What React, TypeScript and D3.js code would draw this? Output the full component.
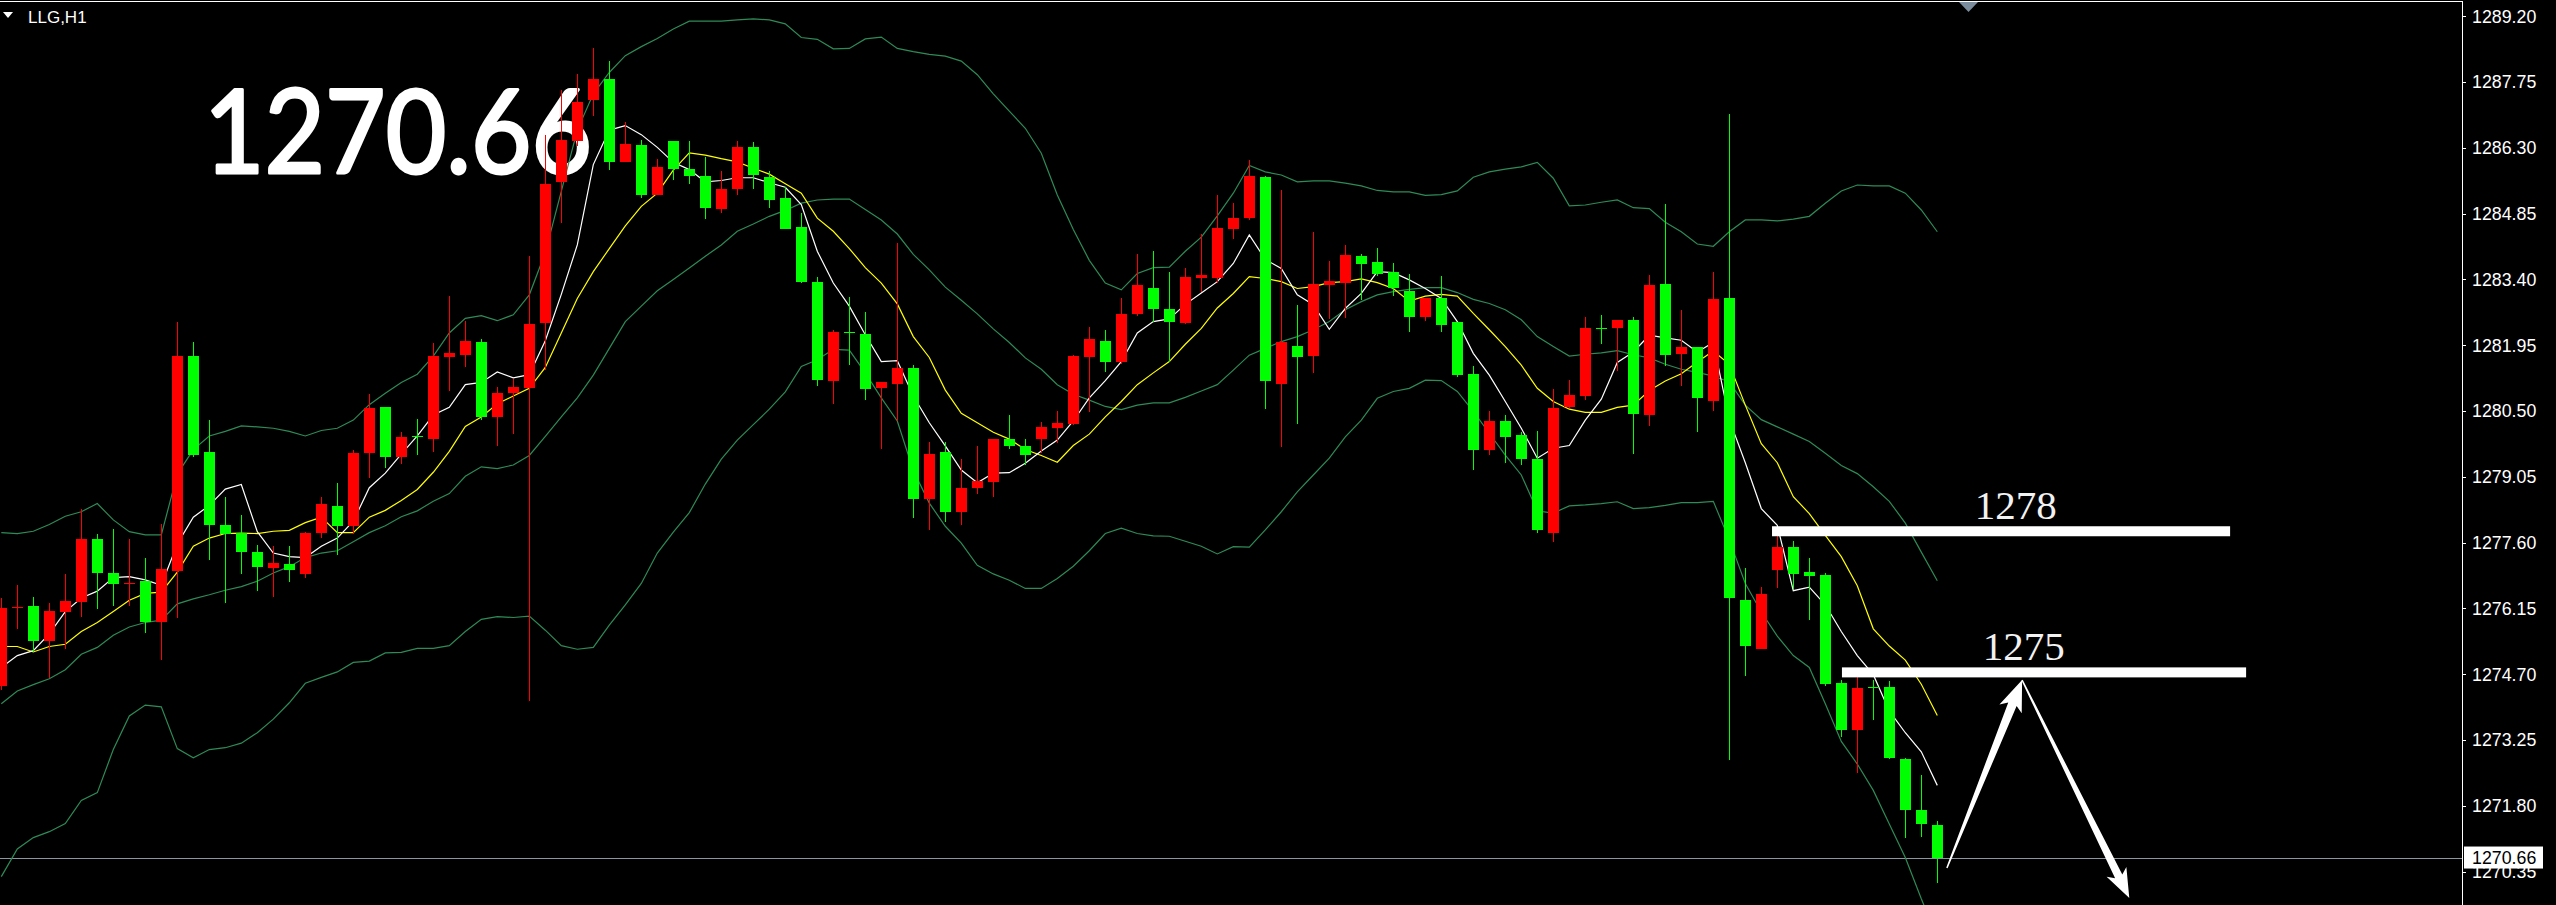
import React from 'react';
import * as d3 from 'd3';

const W = 2556;
const H = 905;
const PLOT_RIGHT = 2462;

const SYMBOL = 'LLG,H1';
const BIG_TEXT = '1270.66';
const LAST_PRICE = 1270.66;
const LAST_LABEL = '1270.66';

const TICK_LABELS = ['1289.20', '1287.75', '1286.30', '1284.85', '1283.40', '1281.95', '1280.50', '1279.05', '1277.60', '1276.15', '1274.70', '1273.25', '1271.80', '1270.35'];

const OPEN = [
  1274.43, 1276.16, 1276.20, 1275.43, 1276.08, 1276.30, 1277.68, 1276.93, 1276.71, 1276.75,
  1275.86, 1276.98, 1281.71, 1279.60, 1277.99, 1277.81, 1277.39, 1277.03, 1277.12, 1276.90,
  1277.81, 1278.40, 1277.97, 1279.57, 1280.59, 1279.49, 1279.95, 1279.89, 1281.70, 1281.74,
  1282.02, 1280.36, 1280.89, 1281.01, 1282.45, 1285.55, 1286.44, 1287.36, 1287.82, 1285.99,
  1286.36, 1285.26, 1286.45, 1285.83, 1285.68, 1284.95, 1285.40, 1286.32, 1285.65, 1285.20,
  1284.56, 1283.34, 1281.17, 1282.23, 1282.20, 1281.01, 1281.10, 1281.45, 1278.57, 1279.59,
  1278.28, 1278.80, 1278.94, 1279.88, 1279.72, 1279.88, 1280.12, 1280.22, 1281.69, 1282.04,
  1281.59, 1282.63, 1283.21, 1282.74, 1282.45, 1283.44, 1283.43, 1284.50, 1284.76, 1285.66,
  1281.10, 1281.93, 1281.72, 1283.28, 1283.33, 1283.92, 1283.78, 1283.56, 1283.14, 1282.58,
  1282.99, 1282.46, 1281.31, 1279.65, 1280.29, 1279.97, 1279.44, 1277.82, 1280.58, 1280.82,
  1282.33, 1282.32, 1282.51, 1280.41, 1283.30, 1281.76, 1281.91, 1280.72, 1282.99, 1276.33,
  1275.25, 1276.99, 1277.51, 1276.95, 1276.89, 1274.51, 1273.47, 1274.41, 1274.42, 1272.83,
  1271.70, 1271.38,
];
const HIGH = [
  1276.38, 1276.66, 1276.40, 1276.28, 1276.90, 1278.35, 1277.79, 1277.89, 1277.68, 1277.27,
  1278.02, 1282.47, 1282.01, 1280.30, 1278.60, 1278.20, 1277.55, 1277.52, 1277.52, 1277.84,
  1278.61, 1278.92, 1279.64, 1280.88, 1280.59, 1280.04, 1280.33, 1281.99, 1283.04, 1282.48,
  1282.09, 1281.03, 1281.21, 1283.92, 1286.58, 1287.57, 1287.93, 1288.50, 1288.22, 1286.86,
  1286.47, 1286.05, 1286.45, 1286.45, 1286.10, 1285.79, 1286.46, 1286.43, 1285.79, 1285.43,
  1284.86, 1283.45, 1282.29, 1283.01, 1282.68, 1281.15, 1284.21, 1281.52, 1279.82, 1279.82,
  1279.44, 1279.72, 1279.88, 1280.41, 1279.88, 1280.25, 1280.49, 1281.73, 1282.35, 1282.29,
  1282.98, 1283.95, 1284.02, 1283.56, 1283.66, 1284.40, 1285.26, 1285.08, 1286.03, 1285.67,
  1285.37, 1282.84, 1284.44, 1283.80, 1284.16, 1283.97, 1284.09, 1283.76, 1283.52, 1283.00,
  1283.47, 1282.46, 1281.49, 1280.51, 1280.41, 1280.03, 1280.06, 1280.98, 1281.18, 1282.57,
  1282.62, 1282.51, 1282.57, 1283.49, 1285.06, 1282.73, 1281.91, 1283.57, 1287.04, 1277.04,
  1276.62, 1277.76, 1277.64, 1277.25, 1276.94, 1274.58, 1274.67, 1274.58, 1274.55, 1272.86,
  1272.48, 1271.46,
];
const LOW = [
  1274.35, 1275.69, 1275.19, 1274.62, 1275.26, 1275.97, 1276.14, 1276.21, 1276.21, 1275.61,
  1275.02, 1275.93, 1279.48, 1277.22, 1276.28, 1276.90, 1276.54, 1276.41, 1276.74, 1276.83,
  1277.71, 1277.33, 1277.80, 1279.03, 1279.24, 1279.34, 1279.54, 1279.59, 1280.95, 1281.46,
  1280.31, 1279.72, 1280.00, 1274.11, 1281.40, 1284.65, 1286.33, 1286.99, 1285.80, 1285.99,
  1285.20, 1285.26, 1285.59, 1285.50, 1284.73, 1284.86, 1285.26, 1285.40, 1284.98, 1284.52,
  1283.32, 1281.04, 1280.66, 1281.52, 1280.75, 1279.67, 1280.28, 1278.15, 1277.88, 1278.06,
  1277.98, 1278.68, 1278.61, 1279.67, 1279.30, 1279.58, 1279.80, 1280.20, 1280.48, 1281.35,
  1281.54, 1282.59, 1282.47, 1281.58, 1282.41, 1283.13, 1283.33, 1284.30, 1284.71, 1280.55,
  1279.70, 1280.21, 1281.34, 1282.53, 1282.56, 1282.95, 1283.48, 1283.04, 1282.23, 1282.49,
  1282.25, 1281.24, 1279.21, 1279.54, 1279.35, 1279.32, 1277.82, 1277.62, 1280.56, 1280.75,
  1281.98, 1281.39, 1279.55, 1280.17, 1281.49, 1281.05, 1280.03, 1280.51, 1272.82, 1274.66,
  1275.25, 1276.61, 1276.58, 1275.89, 1274.45, 1273.31, 1272.53, 1273.70, 1272.83, 1271.10,
  1271.11, 1270.10,
];
const CLOSE = [
  1276.16, 1276.17, 1275.44, 1276.10, 1276.31, 1277.68, 1276.94, 1276.68, 1276.72, 1275.86,
  1277.01, 1281.71, 1279.53, 1277.98, 1277.78, 1277.40, 1277.06, 1277.15, 1276.99, 1277.81,
  1278.45, 1277.96, 1279.57, 1280.56, 1279.49, 1279.93, 1279.94, 1281.71, 1281.77, 1282.04,
  1280.37, 1280.90, 1281.02, 1282.41, 1285.50, 1286.47, 1287.32, 1287.82, 1285.99, 1286.39,
  1285.26, 1285.88, 1285.84, 1285.68, 1284.97, 1285.39, 1286.32, 1285.70, 1285.16, 1284.52,
  1283.35, 1281.18, 1282.24, 1282.21, 1280.98, 1281.14, 1281.45, 1278.57, 1279.56, 1278.28,
  1278.81, 1278.95, 1279.88, 1279.72, 1279.54, 1280.14, 1280.24, 1281.71, 1282.09, 1281.59,
  1282.63, 1283.27, 1282.75, 1282.47, 1283.45, 1283.49, 1284.53, 1284.75, 1285.68, 1281.17,
  1282.02, 1281.70, 1283.30, 1283.36, 1283.94, 1283.75, 1283.53, 1283.22, 1282.58, 1283.00,
  1282.40, 1281.29, 1279.63, 1280.29, 1279.93, 1279.45, 1277.88, 1280.57, 1280.85, 1282.33,
  1282.32, 1282.50, 1280.43, 1283.28, 1281.74, 1281.91, 1280.79, 1282.97, 1276.37, 1275.33,
  1276.47, 1277.51, 1276.90, 1276.87, 1274.49, 1273.47, 1274.40, 1274.40, 1272.86, 1271.70,
  1271.40, 1270.66,
];

const MA_FAST = [
  1274.85, 1275.11, 1275.22, 1275.59, 1276.08, 1276.38, 1276.53, 1276.83, 1276.85, 1276.78,
  1276.66, 1277.57, 1278.16, 1278.42, 1278.78, 1278.88, 1277.84, 1277.37, 1277.29, 1277.27,
  1277.52, 1277.70, 1278.07, 1278.81, 1279.13, 1279.55, 1279.95, 1280.41, 1280.58, 1281.08,
  1281.13, 1281.36, 1281.23, 1281.30, 1282.05, 1283.07, 1284.16, 1285.93, 1286.69, 1286.79,
  1286.59, 1286.31, 1285.98, 1285.82, 1285.55, 1285.58, 1285.64, 1285.64, 1285.53, 1285.43,
  1285.05, 1284.02, 1283.32, 1282.81, 1282.18, 1281.59, 1281.61, 1280.83, 1280.24, 1279.73,
  1279.20, 1278.92, 1279.13, 1279.14, 1279.35, 1279.62, 1279.86, 1280.28, 1280.79, 1281.17,
  1281.59, 1282.22, 1282.47, 1282.53, 1282.85, 1283.10, 1283.35, 1283.75, 1284.38, 1283.84,
  1283.64, 1283.06, 1282.84, 1282.30, 1282.76, 1283.09, 1283.57, 1283.55, 1283.39, 1283.20,
  1282.98, 1282.47, 1281.77, 1281.29, 1280.71, 1280.12, 1279.46, 1279.68, 1279.74, 1280.30,
  1280.76, 1281.57, 1281.80, 1282.17, 1282.11, 1282.06, 1281.80, 1282.01, 1280.31, 1279.36,
  1278.35, 1277.98, 1276.54, 1276.62, 1276.23, 1275.64, 1275.11, 1274.69, 1273.89, 1273.41,
  1272.99, 1272.25,
];
const MA_SLOW = [
  1275.31, 1275.31, 1275.19, 1275.31, 1275.36, 1275.64, 1275.84, 1276.08, 1276.33, 1276.48,
  1276.51, 1276.95, 1277.52, 1277.70, 1277.80, 1277.81, 1277.80, 1277.85, 1277.87, 1278.04,
  1278.16, 1277.82, 1277.82, 1278.16, 1278.31, 1278.53, 1278.77, 1279.15, 1279.61, 1280.16,
  1280.37, 1280.66, 1280.83, 1281.00, 1281.46, 1282.22, 1282.98, 1283.57, 1284.08, 1284.58,
  1285.01, 1285.30, 1285.81, 1286.19, 1286.14, 1286.06, 1285.99, 1285.85, 1285.72, 1285.51,
  1285.30, 1284.75, 1284.46, 1284.08, 1283.66, 1283.32, 1282.86, 1282.14, 1281.68, 1280.96,
  1280.45, 1280.24, 1280.03, 1279.88, 1279.65, 1279.52, 1279.37, 1279.74, 1279.99, 1280.37,
  1280.71, 1281.08, 1281.34, 1281.59, 1281.97, 1282.32, 1282.77, 1283.09, 1283.46, 1283.42,
  1283.35, 1283.20, 1283.24, 1283.33, 1283.35, 1283.41, 1283.33, 1283.20, 1282.92, 1283.03,
  1283.07, 1283.03, 1282.65, 1282.29, 1281.92, 1281.51, 1281.00, 1280.71, 1280.54, 1280.47,
  1280.47, 1280.58, 1280.63, 1280.95, 1281.16, 1281.32, 1281.58, 1281.82, 1281.53, 1280.63,
  1279.78, 1279.36, 1278.61, 1278.24, 1277.76, 1277.29, 1276.65, 1275.70, 1275.32, 1275.01,
  1274.48, 1273.79,
];
const BB_UPPER = [
  1277.82, 1277.80, 1277.85, 1278.00, 1278.18, 1278.28, 1278.46, 1278.10, 1277.84, 1277.77,
  1277.77, 1279.11, 1279.65, 1279.95, 1280.05, 1280.17, 1280.15, 1280.12, 1280.05, 1279.95,
  1280.07, 1280.12, 1280.30, 1280.64, 1280.89, 1281.13, 1281.31, 1281.71, 1282.22, 1282.54,
  1282.60, 1282.49, 1282.62, 1283.06, 1283.99, 1285.34, 1286.69, 1287.49, 1287.96, 1288.33,
  1288.53, 1288.71, 1288.92, 1289.09, 1289.09, 1289.09, 1289.12, 1289.14, 1289.12, 1289.03,
  1288.73, 1288.69, 1288.48, 1288.49, 1288.70, 1288.74, 1288.49, 1288.42, 1288.36, 1288.32,
  1288.21, 1287.91, 1287.49, 1287.11, 1286.73, 1286.18, 1285.26, 1284.50, 1283.82, 1283.32,
  1283.17, 1283.53, 1283.66, 1283.67, 1284.02, 1284.33, 1284.80, 1285.30, 1285.91, 1285.77,
  1285.70, 1285.55, 1285.57, 1285.57, 1285.52, 1285.46, 1285.36, 1285.33, 1285.33, 1285.25,
  1285.27, 1285.35, 1285.65, 1285.77, 1285.83, 1285.88, 1285.98, 1285.63, 1285.02, 1285.04,
  1285.10, 1285.15, 1284.98, 1284.96, 1284.66, 1284.45, 1284.18, 1284.13, 1284.45, 1284.71,
  1284.71, 1284.69, 1284.73, 1284.79, 1285.08, 1285.35, 1285.48, 1285.46, 1285.46, 1285.30,
  1284.93, 1284.45,
];
const BB_MIDDLE = [
  1274.05, 1274.33, 1274.47, 1274.60, 1274.80, 1275.14, 1275.29, 1275.56, 1275.74, 1275.84,
  1275.89, 1276.25, 1276.36, 1276.45, 1276.55, 1276.63, 1276.75, 1276.93, 1277.07, 1277.27,
  1277.37, 1277.42, 1277.62, 1277.82, 1277.97, 1278.17, 1278.30, 1278.51, 1278.68, 1279.06,
  1279.27, 1279.23, 1279.31, 1279.52, 1279.94, 1280.37, 1280.79, 1281.29, 1281.88, 1282.47,
  1282.81, 1283.15, 1283.40, 1283.65, 1283.91, 1284.16, 1284.46, 1284.62, 1284.79, 1284.92,
  1285.08, 1285.15, 1285.17, 1285.17, 1284.94, 1284.71, 1284.40, 1283.95, 1283.61, 1283.23,
  1282.94, 1282.64, 1282.31, 1282.01, 1281.67, 1281.42, 1281.08, 1280.87, 1280.74, 1280.60,
  1280.53, 1280.63, 1280.68, 1280.68, 1280.80, 1280.94, 1281.08, 1281.40, 1281.73, 1281.88,
  1282.03, 1282.14, 1282.29, 1282.47, 1282.73, 1282.91, 1283.06, 1283.13, 1283.18, 1283.22,
  1283.22, 1283.11, 1282.96, 1282.87, 1282.73, 1282.51, 1282.14, 1281.92, 1281.71, 1281.75,
  1281.78, 1281.83, 1281.74, 1281.67, 1281.53, 1281.42, 1281.35, 1281.27, 1281.14, 1280.63,
  1280.31, 1280.15, 1279.99, 1279.83, 1279.57, 1279.30, 1279.12, 1278.83, 1278.51, 1278.03,
  1277.39, 1276.76,
];
const BB_LOWER = [
  1270.24, 1270.85, 1271.10, 1271.23, 1271.41, 1271.92, 1272.09, 1273.04, 1273.78, 1274.02,
  1273.98, 1273.06, 1272.86, 1273.04, 1273.08, 1273.18, 1273.41, 1273.71, 1274.07, 1274.50,
  1274.63, 1274.75, 1274.96, 1274.99, 1275.17, 1275.18, 1275.27, 1275.27, 1275.33, 1275.64,
  1275.91, 1275.97, 1275.95, 1275.98, 1275.67, 1275.33, 1275.25, 1275.29, 1275.78, 1276.23,
  1276.70, 1277.37, 1277.83, 1278.26, 1278.89, 1279.44, 1279.86, 1280.20, 1280.54, 1280.92,
  1281.48, 1281.63, 1281.86, 1281.84, 1281.34, 1280.79, 1280.28, 1279.19, 1278.47, 1277.96,
  1277.59, 1277.10, 1276.91, 1276.77, 1276.59, 1276.59, 1276.81, 1277.08, 1277.42, 1277.80,
  1277.92, 1277.80, 1277.75, 1277.74, 1277.63, 1277.52, 1277.35, 1277.51, 1277.50, 1277.88,
  1278.28, 1278.72, 1279.09, 1279.46, 1279.93, 1280.30, 1280.78, 1280.93, 1281.00, 1281.18,
  1281.17, 1280.93, 1280.49, 1280.01, 1279.53, 1279.09, 1278.30, 1278.25, 1278.41, 1278.43,
  1278.46, 1278.50, 1278.35, 1278.37, 1278.42, 1278.48, 1278.48, 1278.51, 1277.66, 1276.70,
  1276.07, 1275.54, 1275.11, 1274.85, 1274.05, 1273.22, 1272.72, 1272.14, 1271.40, 1270.66,
  1269.75, 1268.90,
];

// hand-drawn annotation levels (bar index range, price)
const LEVEL_LABELS = ['1278', '1275'];
const LEVEL_PRICES = [1277.85, 1274.74];
const LEVEL_FROM = [110.67, 115.04];
const LEVEL_TO = [139.3, 140.3];
const LEVEL_LABEL_AT = [125.9, 126.4];
// arrow path: start, turning point, end (bar index, price)
const ARROW_IDX = [121.6, 126.3, 133.0];
const ARROW_PRICE = [1270.43, 1274.57, 1269.77];

const BULL = '#ff0000';
const BEAR = '#00ff00';
const BAND = '#2e8b57';

function arrowPoly(x0: number, y0: number, x1: number, y1: number, tailW: number, shaftW: number, headLen: number, headW: number) {
  const dx = x1 - x0, dy = y1 - y0;
  const len = Math.hypot(dx, dy);
  const ux = dx / len, uy = dy / len;
  const px = -uy, py = ux;
  const bx = x1 - ux * headLen, by = y1 - uy * headLen;
  const pts: [number, number][] = [
    [x0 - px * tailW / 2, y0 - py * tailW / 2],
    [x0 + px * tailW / 2, y0 + py * tailW / 2],
    [bx + px * shaftW / 2, by + py * shaftW / 2],
    [bx + px * headW / 2 - ux * 5, by + py * headW / 2 - uy * 5],
    [x1, y1],
    [bx - px * headW / 2 - ux * 5, by - py * headW / 2 - uy * 5],
    [bx - px * shaftW / 2, by - py * shaftW / 2],
  ];
  return pts.map(p => p.join(',')).join(' ');
}

export default function App() {
  const y = d3.scaleLinear().domain([1289.2, 1270.35]).range([16.2, 871.6]);
  const x = d3.scaleLinear().domain([0, 121]).range([1.3, 1937.3]);

  const line = d3.line<number>().x((_, i) => x(i)).y(d => y(d));

  const ax = ARROW_IDX.map(i => x(i));
  const ay = ARROW_PRICE.map(p => y(p));

  return (
    <div style={{ position: 'fixed', left: 0, top: 0, width: W, height: H, background: '#000', overflow: 'hidden' }}>
      <svg width={W} height={H} style={{ display: 'block' }}>
        <rect x={0} y={0} width={W} height={H} fill="#000" />
        <defs>
          <clipPath id="plot">
            <rect x={0} y={0} width={PLOT_RIGHT} height={H} />
          </clipPath>
        </defs>

        {/* big price text (background object) */}
        <text x={204} y={173} fill="#fff" stroke="#fff" strokeWidth={3} strokeLinejoin="round"
          fontFamily="'Comic Sans MS', Lato, 'Open Sans', sans-serif" fontSize={116}
          textLength={388} lengthAdjust="spacingAndGlyphs">{BIG_TEXT}</text>

        <g clipPath="url(#plot)">
          {/* bid line */}
          <line x1={0} x2={PLOT_RIGHT} y1={Math.round(y(LAST_PRICE)) + 0.5} y2={Math.round(y(LAST_PRICE)) + 0.5} stroke="#8c96a0" strokeWidth={1} />

          {/* indicators */}
          <path d={line(BB_UPPER) || ''} fill="none" stroke={BAND} strokeWidth={1.2} />
          <path d={line(BB_MIDDLE) || ''} fill="none" stroke={BAND} strokeWidth={1.2} />
          <path d={line(BB_LOWER) || ''} fill="none" stroke={BAND} strokeWidth={1.2} />
          <path d={line(MA_SLOW) || ''} fill="none" stroke="#ffff00" strokeWidth={1.2} />
          <path d={line(MA_FAST) || ''} fill="none" stroke="#ffffff" strokeWidth={1.2} />

          {/* candles */}
          <g shapeRendering="crispEdges">
            {OPEN.map((o, i) => {
              const c = CLOSE[i];
              const col = c > o ? BULL : BEAR;
              const cx = Math.round(x(i));
              const top = Math.round(y(Math.max(o, c)));
              const bot = Math.round(y(Math.min(o, c)));
              return (
                <g key={i}>
                  <rect x={cx} y={Math.round(y(HIGH[i]))} width={1} height={Math.max(1, Math.round(y(LOW[i])) - Math.round(y(HIGH[i])))} fill={col} />
                  <rect x={cx - 5} y={top} width={11} height={Math.max(1, bot - top)} fill={col} />
                </g>
              );
            })}
          </g>

          {/* annotation levels */}
          {LEVEL_PRICES.map((p, i) => (
            <g key={'lv' + i}>
              <rect x={x(LEVEL_FROM[i])} y={y(p) - 5} width={x(LEVEL_TO[i]) - x(LEVEL_FROM[i])} height={10} fill="#fff" />
              <text x={x(LEVEL_LABEL_AT[i])} y={y(p) - 12} textAnchor="middle" fill="#f2f2f2"
                fontFamily="'Liberation Serif', 'DejaVu Serif', serif" fontSize={41}>{LEVEL_LABELS[i]}</text>
            </g>
          ))}

          {/* arrows */}
          <polygon points={arrowPoly(ax[0], ay[0], ax[1], ay[1], 1.5, 9, 26, 24)} fill="#fff" />
          <polygon points={arrowPoly(ax[1], ay[1], ax[2], ay[2], 1.5, 8, 24, 22)} fill="#fff" />
        </g>

        {/* frame */}
        <line x1={0} x2={PLOT_RIGHT} y1={1.5} y2={1.5} stroke="#fff" strokeWidth={1} />
        <line x1={PLOT_RIGHT + 0.5} x2={PLOT_RIGHT + 0.5} y1={1} y2={H} stroke="#fff" strokeWidth={1} />
        <polygon points="1959,2 1978,2 1968.5,12" fill="#7b8c9c" />

        {/* symbol */}
        <polygon points="3,12 13,12 8,18" fill="#fff" />
        <text x={28} y={22.5} fill="#fff" fontFamily="'Liberation Sans', Arial, sans-serif" fontSize={17}>{SYMBOL}</text>

        {/* price axis */}
        <g shapeRendering="crispEdges">
          {TICK_LABELS.map(t => (
            <line key={'tk' + t} x1={PLOT_RIGHT + 1} x2={PLOT_RIGHT + 4} y1={Math.round(y(+t)) + 0.5} y2={Math.round(y(+t)) + 0.5} stroke="#fff" />
          ))}
        </g>
        {TICK_LABELS.map(t => (
          <text key={'tl' + t} x={2472} y={y(+t)} dy="0.36em" fill="#fff" fontFamily="'Liberation Sans', Arial, sans-serif" fontSize={17.8}>{t}</text>
        ))}
        <rect x={2464} y={y(LAST_PRICE) - 11} width={79} height={22} fill="#fff" />
        <text x={2472} y={y(LAST_PRICE)} dy="0.36em" fill="#000" fontFamily="'Liberation Sans', Arial, sans-serif" fontSize={17.8}>{LAST_LABEL}</text>
      </svg>
    </div>
  );
}
